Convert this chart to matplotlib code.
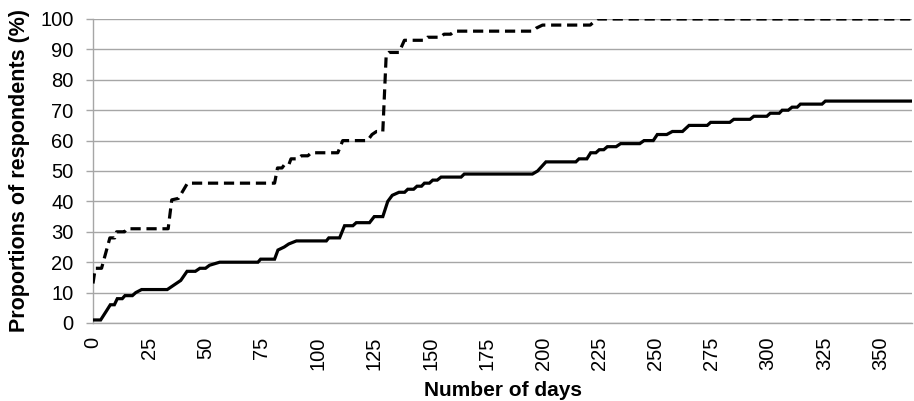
import matplotlib
matplotlib.use("Agg")
import matplotlib.pyplot as plt

# Dashed series (day, %)
dash_days = [0, 1, 3.8, 7.5, 9.7, 10.5, 14, 15, 33.4, 35, 38, 42, 80.7, 82, 84, 85, 87, 88, 91,
             92.6, 95.5, 97, 108.8, 111, 122, 124, 126, 128.8, 130.3, 131.5, 136, 138.4, 147.3,
             148.7, 154.5, 156, 159, 160.6, 195.4, 197, 199.8, 221, 224, 364]
dash_vals = [13, 18, 18, 28, 28, 30, 30, 31, 31, 40.5, 41, 46, 46, 51, 51, 52, 52, 54, 54,
             55, 55, 56, 56, 60, 60, 62, 63, 63, 88, 89, 89, 93, 93,
             94, 94, 95, 95, 96, 96, 97, 98, 98, 100, 100]

# Solid series (day, %)
solid_days = [0, 3.4, 6, 7.7, 9.5, 10.8, 13, 14.2, 17.5, 19, 21.6, 33, 35, 37, 39, 41.8, 45.5,
              47.5, 50, 51.8, 56.3, 73.3, 74.5, 80.7, 82.2, 85, 87, 90.4, 103.7, 104.8, 109.6,
              111.8, 115.5, 117, 122.9, 125, 128.8, 131, 133, 136, 138.5, 139.9, 142.5, 144,
              146, 147.3, 149.5, 151, 153, 154.7, 163.6, 165, 195.3, 197.6, 201.3, 214.6, 216,
              219.5, 221.2, 223.5, 225, 227, 228.6, 232.5, 234.5,
              243, 244.9, 249, 250.8, 255, 257.5, 262, 264.9, 273, 274.5, 283, 284.8, 292,
              293.7, 299.5, 301, 305, 306.3, 309, 310.7, 313, 314.4, 324, 325.5, 364]
solid_vals = [1, 1, 4, 6, 6, 8, 8, 9, 9, 10, 11, 11, 12, 13, 14, 17, 17,
              18, 18, 19, 20, 20, 21, 21, 24, 25, 26, 27, 27, 28, 28,
              32, 32, 33, 33, 35, 35, 40, 42, 43, 43, 44, 44, 45,
              45, 46, 46, 47, 47, 48, 48, 49, 49, 50, 53, 53, 54,
              54, 56, 56, 57, 57, 58, 58, 59,
              59, 60, 60, 62, 62, 63, 63, 65, 65, 66, 66, 67, 67,
              68, 68, 69, 69, 70, 70, 71, 71, 72, 72, 73, 73]

x_ticks = list(range(0, 351, 25))
y_ticks = list(range(0, 101, 10))

plt.rcParams['font.family'] = ['Liberation Sans', 'DejaVu Sans']

fig = plt.figure(figsize=(9.14, 4.01), dpi=100)
ax = fig.add_axes([93/914, 78/401, 819/914, 304/401])

grid_c = '#a6a6a6'
for yv in y_ticks:
    ax.axhline(yv, color=grid_c, lw=1.0, zorder=1)

ax.plot(solid_days, solid_vals, color='black', lw=2.3, zorder=3,
        solid_joinstyle='miter')
ax.plot(dash_days, dash_vals, color='black', lw=2.3, zorder=3,
        linestyle=(0, (3.2, 1.8)))

ax.set_xlim(0, 364)
ax.set_ylim(0, 100)
ax.set_xticks(x_ticks)
ax.set_xticklabels([str(v) for v in x_ticks], rotation=90, fontsize=14.5)
ax.set_yticks(y_ticks)
ax.set_yticklabels([str(v) for v in y_ticks], fontsize=14.5)
ax.tick_params(axis='x', length=0, pad=10)
ax.tick_params(axis='y', length=5, width=1, color=grid_c, pad=9)

for s in ['top', 'right']:
    ax.spines[s].set_visible(False)
for s in ['left', 'bottom']:
    ax.spines[s].set_color(grid_c)
    ax.spines[s].set_linewidth(1.0)

ax.set_xlabel('Number of days', fontsize=15, fontweight='bold', labelpad=8)
ax.set_ylabel('Proportions of respondents (%)', fontsize=15.5, fontweight='bold', labelpad=7)

fig.savefig('out.png', dpi=100)
